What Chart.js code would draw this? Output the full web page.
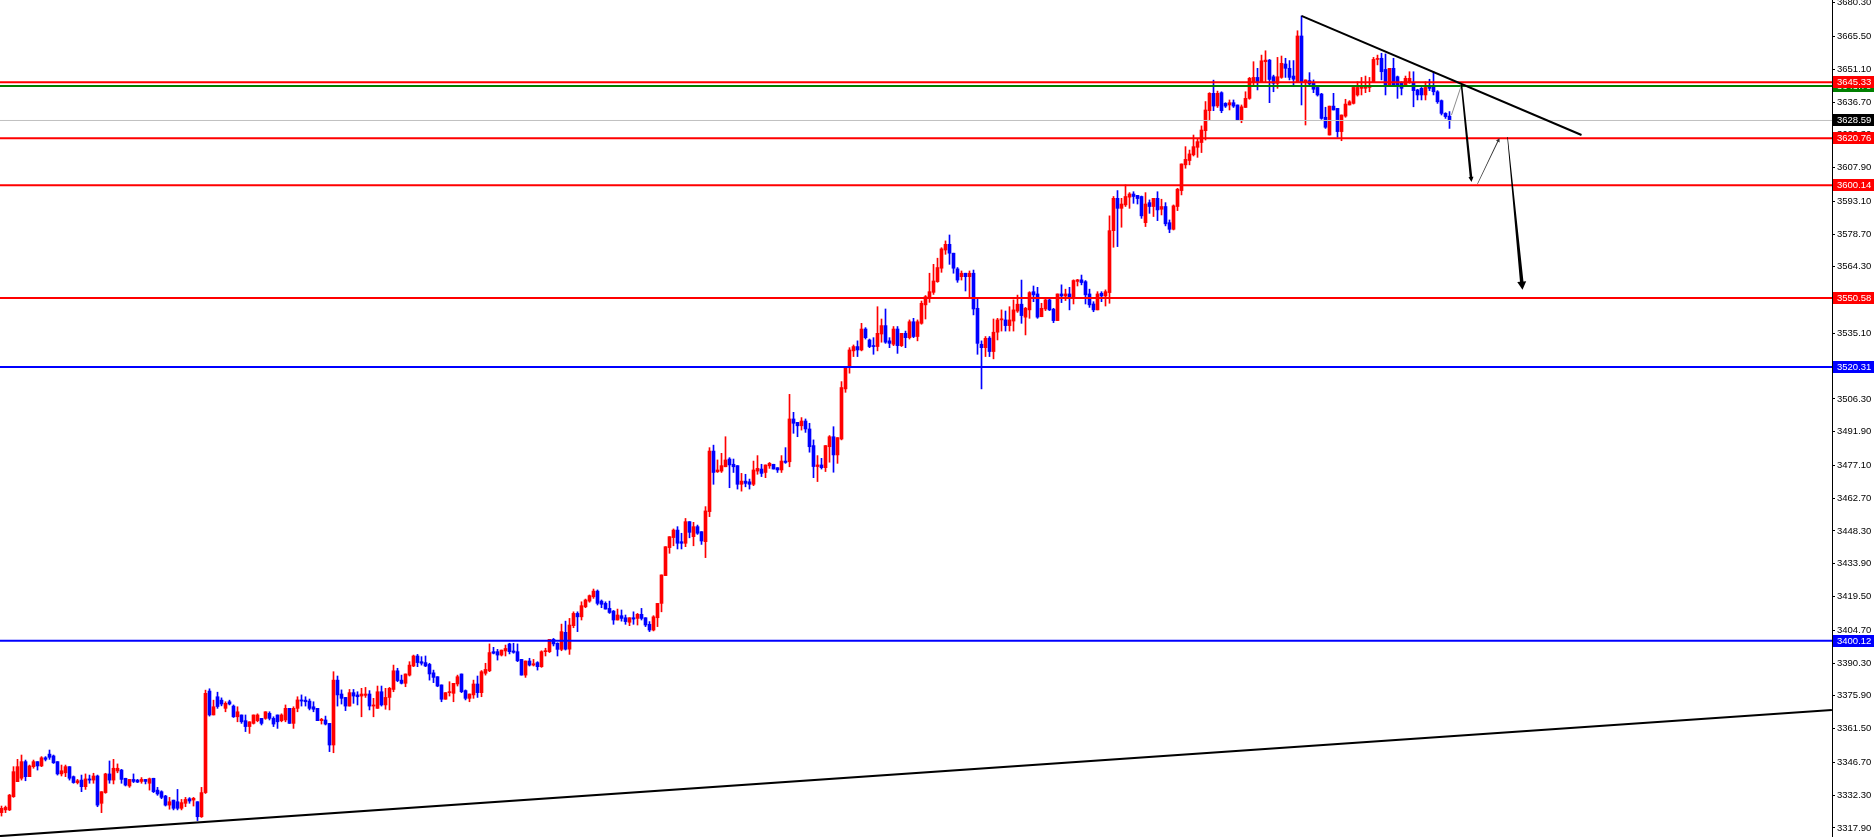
<!DOCTYPE html>
<html>
<head>
<meta charset="utf-8">
<title>XAUUSD H1</title>
<script src="https://cdn.jsdelivr.net/npm/chart.js@4.4.1/dist/chart.umd.min.js"></script>
<style>
  html, body { margin: 0; padding: 0; background: #fff; }
  #wrap { width: 1875px; height: 837px; position: relative; }
</style>
</head>
<body>
<div id="wrap"><canvas id="chart"></canvas></div>
<script>
// candles (oldest first)
const opens = [
3324.6,3325.8,3325.8,3331.6,3338.2,3339.7,3347.0,3340.4,3344.8,3347.0,
3345.1,3348.7,3350.3,3349.5,3347.0,3341.6,3342.1,3344.8,3340.4,3337.8,
3338.9,3336.0,3339.4,3338.9,3340.7,3328.7,3333.4,3341.6,3338.9,3342.9,
3343.3,3339.7,3336.3,3339.2,3338.9,3338.3,3339.2,3337.5,3339.7,3334.5,
3333.8,3331.9,3327.9,3330.1,3329.4,3326.5,3328.7,3330.7,3330.1,3329.4,
3322.8,3333.4,3378.0,3367.5,3375.5,3374.0,3370.4,3373.3,3371.4,3366.7,
3367.5,3365.0,3362.4,3363.8,3365.0,3366.0,3366.0,3368.2,3366.0,3367.5,
3365.0,3365.3,3370.4,3363.8,3370.4,3374.1,3374.0,3373.6,3371.1,3370.4,
3365.0,3365.3,3363.8,3354.3,3382.8,3376.7,3375.2,3371.4,3377.3,3376.3,
3375.8,3376.1,3376.7,3371.4,3370.4,3377.7,3371.9,3375.2,3378.7,3386.9,
3382.8,3381.4,3385.0,3389.0,3393.4,3390.9,3390.5,3389.7,3386.0,3384.3,
3380.7,3374.4,3377.3,3377.0,3381.1,3385.5,3378.2,3374.8,3376.3,3381.1,
3377.3,3385.8,3386.9,3395.3,3395.3,3393.8,3395.6,3398.7,3395.6,3395.3,
3391.9,3385.0,3391.2,3389.4,3390.5,3388.7,3395.3,3395.3,3400.7,3399.0,
3396.3,3403.8,3396.4,3406.7,3412.1,3410.6,3415.0,3417.5,3419.4,3421.9,
3417.5,3416.5,3414.3,3413.1,3409.2,3411.1,3410.2,3408.2,3410.2,3409.9,
3411.7,3410.2,3407.3,3404.8,3410.2,3416.5,3428.7,3441.0,3445.4,3448.7,
3443.6,3442.9,3452.4,3445.8,3450.2,3448.0,3443.6,3456.8,3483.4,3474.3,
3474.6,3476.5,3479.9,3477.6,3477.0,3468.8,3470.2,3469.9,3468.8,3474.6,
3475.5,3474.0,3476.9,3477.6,3476.1,3475.1,3479.0,3478.7,3497.5,3496.0,
3494.5,3496.6,3493.1,3485.8,3476.6,3477.3,3476.1,3485.3,3489.7,3481.7,
3488.7,3510.7,3520.5,3527.4,3529.3,3527.8,3537.0,3532.2,3529.7,3529.3,
3534.8,3538.5,3531.8,3530.3,3537.0,3529.7,3535.1,3533.2,3540.2,3533.7,
3539.5,3547.6,3550.8,3553.1,3557.8,3563.7,3571.7,3574.2,3570.3,3563.4,
3560.0,3561.5,3560.0,3561.5,3546.1,3530.3,3528.8,3533.0,3527.1,3535.6,
3541.0,3541.0,3538.5,3540.5,3544.9,3547.9,3542.2,3545.4,3553.4,3552.4,
3542.4,3545.8,3549.8,3545.7,3540.7,3552.4,3551.5,3552.4,3551.0,3557.9,
3558.6,3557.8,3552.4,3548.0,3545.4,3552.7,3551.5,3553.0,3580.2,3594.4,
3590.0,3591.5,3594.9,3596.3,3595.7,3595.2,3583.7,3592.5,3590.8,3594.4,
3589.6,3590.8,3583.7,3580.8,3590.8,3597.8,3609.1,3611.0,3613.5,3616.8,
3618.9,3624.1,3632.9,3640.5,3635.0,3640.8,3636.1,3635.4,3636.4,3635.4,
3628.8,3634.3,3638.3,3645.6,3647.5,3645.6,3654.4,3655.1,3647.8,3644.9,
3647.5,3653.4,3651.5,3648.1,3645.6,3665.7,3645.2,3646.1,3645.2,3643.1,
3640.2,3630.0,3622.2,3634.9,3633.9,3623.7,3630.5,3635.4,3636.1,3639.8,
3642.7,3642.7,3643.1,3645.2,3655.4,3655.9,3651.0,3644.2,3651.5,3647.8,
3645.2,3644.2,3645.2,3645.2,3642.0,3642.7,3639.8,3643.7,3643.7,3641.2,
3637.3,3631.7,3630.5
];
const highs = [
3327.5,3327.5,3332.6,3344.8,3348.0,3349.9,3347.7,3345.5,3347.7,3347.0,
3349.2,3349.2,3352.1,3349.9,3347.0,3345.5,3345.5,3344.8,3340.7,3339.2,
3341.1,3341.6,3341.1,3341.9,3341.1,3333.8,3341.9,3347.3,3348.0,3346.0,
3343.6,3339.7,3339.2,3341.6,3339.2,3340.0,3339.2,3339.8,3339.7,3335.7,
3334.2,3332.2,3331.3,3330.1,3334.8,3330.4,3331.3,3331.2,3331.3,3329.4,
3335.7,3378.4,3379.0,3374.0,3377.5,3375.0,3373.3,3374.0,3371.9,3371.1,
3367.5,3367.5,3364.5,3367.5,3368.0,3366.0,3368.9,3368.9,3366.7,3367.5,
3368.0,3371.9,3370.4,3371.1,3375.5,3376.3,3375.5,3374.5,3373.3,3370.4,
3366.0,3367.0,3363.8,3386.5,3384.6,3378.5,3375.2,3378.7,3378.7,3377.7,
3379.2,3379.6,3378.2,3374.8,3380.2,3380.2,3379.2,3379.6,3389.4,3388.0,
3385.0,3385.5,3390.9,3393.8,3394.1,3393.1,3393.4,3390.2,3387.2,3384.3,
3380.7,3377.3,3382.1,3381.4,3385.0,3385.5,3378.5,3376.7,3382.8,3384.6,
3387.0,3390.2,3398.7,3397.2,3396.3,3396.0,3398.2,3399.0,3399.0,3398.7,
3391.9,3391.2,3392.4,3391.9,3390.9,3395.7,3396.8,3400.7,3401.1,3399.2,
3407.4,3408.7,3409.9,3412.8,3412.8,3417.2,3418.4,3420.2,3422.8,3422.4,
3418.0,3417.2,3417.5,3413.4,3414.0,3413.6,3411.4,3410.2,3412.8,3412.1,
3414.3,3410.2,3408.5,3411.1,3416.5,3429.0,3441.4,3445.8,3449.2,3450.2,
3447.3,3453.8,3452.4,3452.1,3450.9,3448.0,3459.0,3484.9,3486.0,3479.5,
3482.4,3489.7,3480.5,3479.9,3477.0,3473.6,3473.2,3471.1,3479.0,3481.4,
3477.6,3477.3,3478.4,3477.6,3476.1,3481.4,3484.9,3508.3,3500.4,3496.0,
3498.1,3497.5,3495.6,3488.3,3481.4,3480.2,3485.8,3490.2,3494.1,3489.3,
3513.9,3520.0,3528.8,3530.0,3531.8,3539.5,3537.6,3532.6,3533.2,3546.8,
3541.4,3545.8,3533.2,3538.1,3538.1,3535.1,3536.1,3541.0,3541.7,3541.0,
3549.3,3551.7,3561.5,3565.4,3568.1,3572.7,3575.7,3578.3,3570.3,3564.0,
3562.5,3561.5,3562.5,3562.9,3550.5,3531.8,3533.7,3533.7,3541.4,3541.7,
3545.4,3544.9,3546.8,3549.8,3551.9,3558.5,3546.5,3553.4,3555.9,3555.3,
3548.3,3550.1,3550.5,3546.1,3552.4,3556.4,3554.5,3555.3,3558.6,3558.8,
3560.7,3558.3,3554.5,3549.0,3553.4,3553.4,3554.2,3586.7,3595.2,3597.8,
3594.4,3600.3,3596.9,3597.3,3595.7,3595.4,3596.9,3593.7,3594.4,3597.3,
3594.0,3592.5,3584.9,3591.5,3598.8,3609.5,3617.1,3615.6,3622.2,3620.3,
3626.2,3636.9,3640.8,3646.3,3641.5,3641.2,3636.4,3637.6,3637.6,3635.4,
3635.4,3641.2,3647.5,3654.4,3651.5,3657.3,3659.2,3655.4,3648.5,3656.3,
3656.9,3655.9,3654.9,3654.9,3668.0,3674.5,3646.4,3649.6,3646.4,3643.7,
3640.5,3634.4,3634.9,3640.5,3633.9,3631.0,3637.9,3637.3,3643.1,3645.6,
3647.5,3648.1,3647.5,3656.3,3657.3,3658.1,3657.8,3651.5,3655.9,3648.1,
3645.6,3648.1,3650.0,3650.0,3642.3,3643.1,3645.6,3646.7,3650.0,3641.7,
3637.6,3632.0,3632.5
];
const lows = [
3323.1,3324.6,3325.5,3331.3,3338.2,3338.9,3338.6,3340.4,3344.1,3343.3,
3344.8,3347.3,3348.0,3346.2,3341.1,3340.7,3340.4,3338.9,3337.5,3337.2,
3333.8,3334.8,3337.5,3337.5,3327.2,3324.6,3333.1,3337.5,3337.2,3342.1,
3337.5,3336.3,3335.7,3337.8,3337.8,3337.5,3337.2,3334.5,3333.4,3332.2,
3330.7,3327.5,3326.1,3325.8,3325.8,3325.8,3327.2,3328.7,3327.5,3321.1,
3322.5,3333.0,3367.0,3367.5,3370.4,3371.5,3368.9,3371.9,3366.4,3364.5,
3363.8,3360.2,3359.4,3363.5,3364.5,3363.1,3365.6,3365.3,3362.4,3361.6,
3364.5,3364.5,3363.8,3361.6,3368.9,3371.4,3371.4,3369.7,3368.9,3365.0,
3363.5,3363.1,3351.4,3350.9,3371.4,3372.3,3369.4,3371.4,3372.6,3371.9,
3366.7,3375.2,3369.7,3366.7,3370.4,3371.4,3370.0,3369.7,3377.7,3382.1,
3381.1,3379.9,3384.6,3388.7,3388.7,3389.4,3388.7,3382.8,3381.7,3379.9,
3373.3,3374.4,3375.8,3373.3,3380.2,3377.3,3374.1,3373.3,3374.8,3375.2,
3375.5,3385.0,3386.5,3394.3,3391.6,3393.4,3393.4,3394.3,3394.6,3390.9,
3385.0,3384.0,3389.0,3389.0,3387.2,3388.4,3393.4,3394.9,3397.8,3393.4,
3395.7,3396.0,3394.1,3405.8,3404.1,3409.2,3414.6,3417.0,3418.7,3415.8,
3414.6,3414.0,3412.1,3407.3,3409.2,3408.7,3407.3,3406.7,3407.3,3407.0,
3409.2,3406.3,3404.1,3404.4,3406.3,3412.8,3428.7,3438.5,3441.8,3440.4,
3440.4,3441.4,3445.3,3441.8,3446.8,3442.4,3436.6,3454.6,3468.8,3474.0,
3474.0,3476.5,3467.3,3474.0,3466.7,3465.8,3467.7,3466.7,3468.2,3473.2,
3472.2,3471.7,3475.8,3475.5,3474.0,3474.0,3478.0,3476.5,3491.2,3489.7,
3492.6,3491.6,3482.9,3471.7,3470.0,3475.5,3474.4,3478.5,3474.1,3478.0,
3488.3,3509.2,3517.6,3524.9,3524.9,3527.4,3532.6,3528.8,3525.9,3527.4,
3531.2,3530.7,3528.8,3529.7,3526.3,3529.3,3528.8,3532.6,3533.2,3531.8,
3539.1,3541.4,3548.7,3552.2,3557.5,3561.9,3569.8,3565.4,3561.5,3557.5,
3558.5,3553.7,3551.2,3543.2,3525.9,3510.7,3524.9,3524.9,3523.9,3532.2,
3536.1,3536.1,3536.1,3536.1,3544.3,3539.5,3534.4,3541.7,3549.0,3541.7,
3542.4,3545.1,3545.1,3539.8,3540.7,3548.6,3549.5,3545.4,3548.0,3555.9,
3556.4,3548.0,3546.5,3544.6,3545.4,3549.0,3547.1,3548.3,3572.9,3573.2,
3581.7,3590.8,3590.0,3592.2,3591.9,3585.6,3582.0,3587.8,3586.4,3584.6,
3587.1,3582.3,3579.3,3580.5,3589.0,3595.9,3607.6,3609.1,3613.0,3612.4,
3614.5,3620.0,3628.5,3632.9,3634.3,3632.0,3634.3,3633.2,3634.3,3628.5,
3627.6,3634.3,3637.9,3643.7,3642.0,3645.2,3645.6,3636.4,3641.2,3642.7,
3647.1,3647.5,3646.4,3644.2,3645.2,3635.4,3626.6,3643.7,3640.8,3639.3,
3629.1,3625.1,3622.2,3633.2,3621.2,3619.7,3630.0,3635.4,3635.8,3639.3,
3639.8,3640.8,3641.2,3645.2,3653.0,3646.4,3639.8,3643.7,3643.7,3638.3,
3639.8,3643.7,3644.9,3634.6,3637.6,3637.6,3637.6,3641.7,3639.8,3636.1,
3631.0,3629.5,3625.1
];
const closes = [
3326.5,3326.9,3332.3,3342.6,3344.8,3347.0,3340.4,3345.1,3347.0,3345.1,
3348.7,3348.0,3348.9,3346.5,3341.6,3343.0,3344.8,3339.7,3337.8,3338.6,
3336.0,3339.4,3338.9,3340.7,3327.9,3333.8,3341.6,3338.9,3344.1,3344.1,
3339.2,3336.7,3339.2,3338.3,3338.0,3339.2,3338.3,3339.5,3333.8,3332.8,
3331.3,3327.9,3329.4,3326.5,3326.5,3329.0,3330.4,3329.7,3330.9,3322.8,
3333.4,3377.0,3367.5,3371.1,3371.2,3372.3,3372.6,3372.3,3366.7,3368.9,
3364.5,3362.4,3364.5,3367.5,3367.5,3363.8,3368.9,3366.0,3363.5,3364.5,
3367.5,3370.4,3363.8,3370.4,3374.1,3373.6,3373.3,3370.4,3370.0,3365.0,
3365.6,3363.5,3354.3,3382.8,3376.3,3374.8,3371.4,3377.3,3375.8,3375.5,
3376.7,3376.7,3371.4,3371.9,3377.7,3371.9,3375.2,3379.2,3386.9,3382.6,
3381.4,3385.5,3389.4,3393.4,3390.5,3390.2,3389.0,3385.5,3384.0,3380.2,
3374.4,3377.3,3377.7,3381.4,3384.3,3377.7,3374.8,3376.7,3381.1,3377.3,
3386.5,3387.5,3394.9,3394.6,3393.8,3396.0,3396.7,3395.3,3395.0,3391.3,
3385.0,3391.2,3389.4,3390.0,3388.7,3395.3,3395.7,3400.7,3398.7,3396.3,
3404.1,3396.4,3407.0,3412.1,3410.6,3415.5,3418.0,3419.9,3421.9,3416.5,
3416.1,3414.0,3412.5,3409.2,3411.4,3409.9,3408.5,3410.2,3409.6,3411.7,
3409.9,3407.0,3404.8,3410.6,3416.5,3429.0,3441.4,3445.8,3448.7,3442.9,
3442.9,3452.4,3447.7,3450.2,3447.3,3443.9,3457.1,3483.4,3474.0,3475.1,
3477.0,3479.5,3477.3,3476.5,3468.8,3470.2,3469.2,3468.8,3475.1,3475.8,
3473.6,3477.3,3478.0,3475.5,3475.1,3479.0,3478.4,3497.5,3495.6,3494.5,
3496.6,3493.1,3485.3,3476.6,3477.3,3476.1,3485.8,3489.7,3481.7,3489.3,
3511.3,3520.0,3527.8,3529.3,3527.8,3537.0,3533.2,3529.3,3529.3,3535.1,
3538.5,3531.2,3530.7,3537.0,3529.7,3535.1,3533.2,3540.2,3533.7,3540.2,
3548.3,3551.2,3553.4,3558.1,3564.0,3572.2,3574.2,3570.3,3563.7,3558.5,
3561.5,3560.0,3561.5,3545.8,3530.7,3528.8,3532.9,3527.1,3535.6,3541.0,
3541.5,3538.5,3541.0,3545.4,3547.9,3542.9,3546.1,3553.0,3552.0,3542.2,
3546.1,3549.8,3545.4,3540.7,3552.4,3551.5,3552.4,3551.0,3558.3,3558.6,
3557.4,3552.0,3547.6,3545.4,3552.4,3551.5,3553.4,3580.2,3594.4,3590.0,
3591.9,3595.2,3596.3,3595.2,3594.3,3586.7,3591.9,3590.8,3594.4,3589.3,
3590.8,3583.2,3580.8,3591.1,3598.4,3609.5,3611.5,3613.9,3617.1,3619.3,
3624.4,3633.2,3640.5,3634.9,3640.5,3632.9,3634.9,3636.4,3634.9,3628.8,
3634.6,3638.3,3647.1,3647.5,3645.6,3654.8,3655.1,3646.6,3644.9,3647.8,
3653.7,3651.5,3647.5,3646.7,3665.7,3645.6,3646.4,3644.6,3642.3,3639.8,
3629.5,3625.6,3634.9,3633.2,3623.7,3631.0,3635.8,3636.8,3643.1,3643.1,
3643.1,3643.4,3643.7,3655.4,3655.6,3650.0,3644.2,3651.5,3644.2,3644.2,
3642.7,3647.1,3647.1,3641.7,3639.8,3639.8,3643.1,3642.7,3641.2,3636.8,
3631.7,3630.3,3628.6
];

// price axis labels as printed on the right
const yTicks = [3680.30,3665.50,3651.10,3636.70,3622.30,3607.90,3593.10,3578.70,3564.30,
  3549.90,3535.10,3520.70,3506.30,3491.90,3477.10,3462.70,3448.30,3433.90,3419.50,
  3404.70,3390.30,3375.90,3361.50,3346.70,3332.30,3317.90];

// horizontal levels
const redLevels = [3645.33, 3620.76, 3600.14, 3550.58];
const blueLevels = [3520.31, 3400.12];
const greenLevel = 3643.70;
const lastPrice = 3628.59;

// trend lines [bar index, price]
const trendDown = [[325, 3674.5], [395, 3622.2]];
const trendUp = [[-0.4, 3314.3], [457.6, 3369.7]];

// projected path [bar index, price]
const pathLead = [[362.5, 3631.0], [365, 3644.2]];
const pathDrop1 = [[365, 3644.2], [367.5, 3601.6]];
const pathBounce = [[369, 3600.7], [374.5, 3620.9]];
const pathDrop2 = [[376.5, 3621.3], [380.25, 3554.3]];

const X_MIN = -0.375, X_MAX = 457.625;
const Y_MIN = 3313.9, Y_MAX = 3681.5;
const UP = '#ff0000', DOWN = '#0000ff';

const candleColors = closes.map((c, i) => c >= opens[i] ? UP : DOWN);

function levelLine(v, color, width) {
  return {
    type: 'line',
    data: [{ x: X_MIN, y: v }, { x: X_MAX, y: v }],
    borderColor: color, borderWidth: width,
    pointRadius: 0, fill: false, order: 1
  };
}
function segLine(pts, color, width) {
  return {
    type: 'line',
    data: pts.map(p => ({ x: p[0], y: p[1] })),
    borderColor: color, borderWidth: width,
    pointRadius: 0, fill: false, order: 0
  };
}

const datasets = [
  {
    type: 'bar',
    data: closes.map((c, i) => ({ x: i, y: [lows[i], highs[i]] })),
    backgroundColor: candleColors,
    barThickness: 1, grouped: false, minBarLength: 1, order: 11
  },
  {
    type: 'bar',
    data: closes.map((c, i) => ({ x: i, y: [opens[i], c] })),
    backgroundColor: candleColors,
    barThickness: 3, grouped: false, minBarLength: 1, order: 10
  },
  levelLine(lastPrice, '#c0c0c0', 1),
  levelLine(greenLevel, '#008000', 2)
];
redLevels.forEach(v => datasets.push(levelLine(v, '#ff0000', 2)));
blueLevels.forEach(v => datasets.push(levelLine(v, '#0000ff', 2)));
datasets.push(segLine(trendDown, '#000000', 2));
datasets.push(segLine(trendUp, '#000000', 2));

// arrows of the projected move
const arrows = {
  id: 'arrows',
  afterDatasetsDraw(chart) {
    const { ctx, scales: { x, y } } = chart;
    const px = p => [x.getPixelForValue(p[0]), y.getPixelForValue(p[1])];

    function taper(a, b, w0, w1, head, headW, color) {
      const [x0, y0] = px(a), [x1, y1] = px(b);
      const dx = x1 - x0, dy = y1 - y0, len = Math.hypot(dx, dy);
      const ux = dx / len, uy = dy / len, nx = -uy, ny = ux;
      const bx = x1 - ux * head, by = y1 - uy * head;
      ctx.save();
      ctx.fillStyle = color;
      ctx.beginPath();
      ctx.moveTo(x0 + nx * w0 / 2, y0 + ny * w0 / 2);
      ctx.lineTo(bx + nx * w1 / 2, by + ny * w1 / 2);
      ctx.lineTo(bx + nx * headW, by + ny * headW);
      ctx.lineTo(x1, y1);
      ctx.lineTo(bx - nx * headW, by - ny * headW);
      ctx.lineTo(bx - nx * w1 / 2, by - ny * w1 / 2);
      ctx.lineTo(x0 - nx * w0 / 2, y0 - ny * w0 / 2);
      ctx.closePath();
      ctx.fill();
      ctx.restore();
    }

    ctx.save();
    ctx.strokeStyle = '#8c8c8c';
    ctx.lineWidth = 1;
    ctx.beginPath();
    let p = px(pathLead[0]); ctx.moveTo(p[0], p[1]);
    p = px(pathLead[1]); ctx.lineTo(p[0], p[1]);
    ctx.stroke();
    ctx.restore();

    taper(pathDrop1[0], pathDrop1[1], 1.5, 2.5, 5, 2.5, '#000');
    taper(pathBounce[0], pathBounce[1], 0.6, 1, 4, 2, '#333');
    taper(pathDrop2[0], pathDrop2[1], 0.6, 3.5, 8, 4.5, '#000');
  }
};

// price tags on the axis
const priceTags = {
  id: 'priceTags',
  afterDraw(chart) {
    const { ctx, scales: { y } } = chart;
    const tags = [[greenLevel, '#008000']];
    tags.push([lastPrice, '#000000']);
    redLevels.forEach(v => tags.push([v, '#ff0000']));
    blueLevels.forEach(v => tags.push([v, '#0000ff']));
    ctx.save();
    ctx.font = '9.5px "Liberation Sans", Arial, sans-serif';
    ctx.textBaseline = 'middle';
    ctx.textAlign = 'left';
    tags.forEach(([v, c]) => {
      const py = Math.round(y.getPixelForValue(v));
      ctx.fillStyle = c;
      ctx.fillRect(y.left + 1, py - 6, 41, 12);
      ctx.fillStyle = '#ffffff';
      ctx.fillText(v.toFixed(2), y.left + 5, py + 0.5);
    });
    ctx.restore();
  }
};

new Chart(document.getElementById('chart'), {
  type: 'bar',
  data: { datasets },
  plugins: [arrows, priceTags],
  options: {
    responsive: true,
    maintainAspectRatio: false,
    animation: false,
    devicePixelRatio: 1,
    layout: { padding: 0 },
    plugins: { legend: { display: false }, tooltip: { enabled: false } },
    scales: {
      x: {
        type: 'linear', min: X_MIN, max: X_MAX, offset: false,
        display: false
      },
      y: {
        type: 'linear', position: 'right', min: Y_MIN, max: Y_MAX,
        afterBuildTicks: scale => { scale.ticks = yTicks.map(v => ({ value: v })); },
        afterFit: scale => { scale.width = 43; scale.paddingTop = 0; scale.paddingBottom = 0; },
        ticks: {
          autoSkip: false, padding: 2, color: '#000',
          font: { family: '"Liberation Sans", Arial, sans-serif', size: 9.5 },
          callback: v => Number(v).toFixed(2)
        },
        grid: { drawOnChartArea: false, drawTicks: true, tickLength: 3, color: '#000' },
        border: { display: true, color: '#000', width: 1 }
      }
    }
  }
});
</script>
</body>
</html>
